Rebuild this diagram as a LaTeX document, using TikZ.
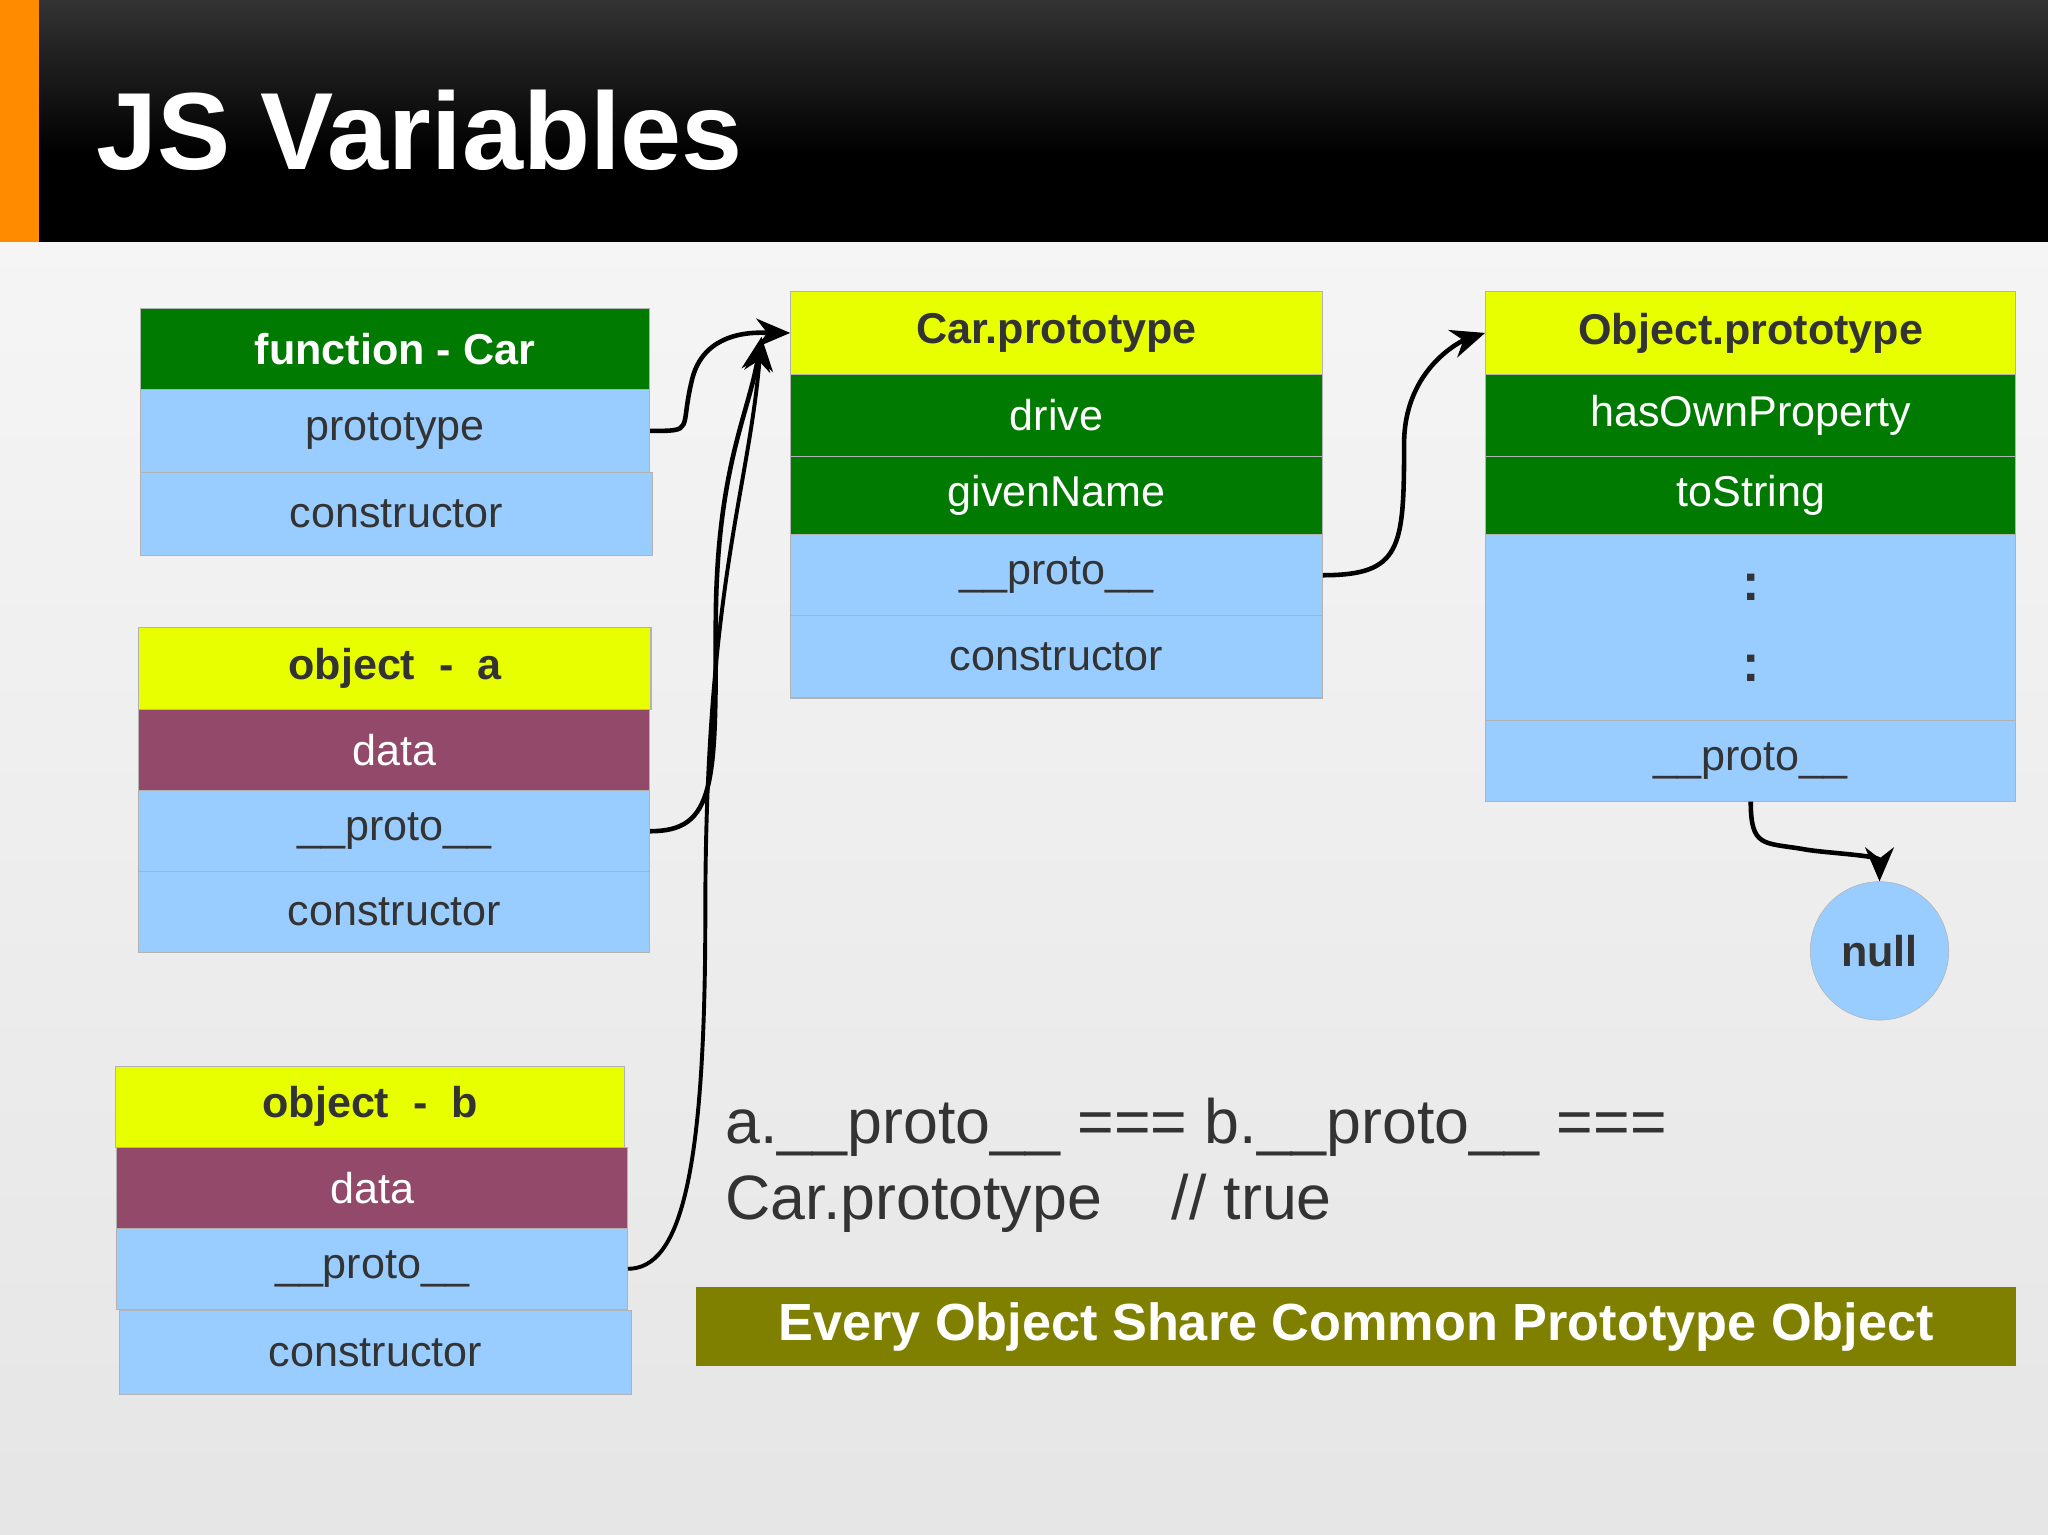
\documentclass[tikz,border=0pt]{standalone}
\usepackage{fontspec}
\setmainfont{Liberation Sans}
\usetikzlibrary{arrows.meta}
\definecolor{dg}{HTML}{007A00}
\definecolor{yl}{HTML}{E8FF00}
\definecolor{lb}{HTML}{99CCFF}
\definecolor{mr}{HTML}{934A6A}
\definecolor{ol}{HTML}{808000}
\definecolor{tx}{HTML}{333333}
\tikzset{
 row/.style={draw=gray!60, line width=0.8pt, anchor=north west, inner sep=0pt, align=center,
   font=\fontsize{33}{36}\selectfont, text=tx},
 hdr/.style={row, fill=yl, font=\fontsize{33}{36}\selectfont\bfseries},
 grn/.style={row, fill=dg, text=white},
 blu/.style={row, fill=lb},
 dat/.style={row, fill=mr, text=white},
 link/.style={line width=3.5pt, -{Stealth[length=26pt,width=22pt]}},
}
\begin{document}
\begin{tikzpicture}[x=1pt,y=-1pt]
\useasboundingbox (0,0) rectangle (1568,1175);
\shade[top color=gray!8, bottom color=gray!20] (0,185) rectangle (1568,1175);
\shade[top color=black!80, bottom color=black] (0,0) rectangle (1568,118);
\fill[black] (0,118) rectangle (1568,185);
\fill[orange!90!yellow] (0,0) rectangle (30,185);
\node[anchor=west, text=white, font=\fontsize{84}{90}\selectfont\bfseries] (title) at (70,100) {JS Variables};
% function Car
\node[row,fill=dg,text=white,font=\fontsize{33}{36}\selectfont\bfseries,minimum width=390,minimum height=62] (fh) at (107,236) {function - Car};
\node[blu,minimum width=390,minimum height=63] (fp) at (107,298) {prototype};
\node[blu,minimum width=392,minimum height=64] (fc) at (107,361) {constructor};
% object a
\node[hdr,minimum width=392,minimum height=63] (ah) at (106,480) {object\ \ -\ \ a};
\node[dat,minimum width=391,minimum height=62] (ad) at (106,543) {data};
\node[blu,minimum width=391,minimum height=62] (ap) at (106,605) {\_\_proto\_\_};
\node[blu,minimum width=391,minimum height=62] (ac) at (106,667) {constructor};
% object b
\node[hdr,minimum width=390,minimum height=62] (bh) at (88,816) {object\ \ -\ \ b};
\node[dat,minimum width=391,minimum height=62] (bd) at (89,878) {data};
\node[blu,minimum width=391,minimum height=62] (bp) at (89,940) {\_\_proto\_\_};
\node[blu,minimum width=392,minimum height=64] (bc) at (91,1003) {constructor};
% Car.prototype
\node[hdr,minimum width=407,minimum height=63] (ch) at (605,223) {Car.prototype};
\node[grn,minimum width=407,minimum height=63] (cd) at (605,286) {drive};
\node[grn,minimum width=407,minimum height=60] (cg) at (605,349) {givenName};
\node[blu,minimum width=407,minimum height=62] (cp) at (605,409) {\_\_proto\_\_};
\node[blu,minimum width=407,minimum height=63] (cc) at (605,471) {constructor};
% Object.prototype
\node[hdr,minimum width=406,minimum height=63] (oh) at (1137,223) {Object.prototype};
\node[grn,minimum width=406,minimum height=63] (oo) at (1137,286) {hasOwnProperty};
\node[grn,minimum width=406,minimum height=60] (ot) at (1137,349) {toString};
\node[blu,minimum width=406,minimum height=142,font=\fontsize{40}{62}\selectfont\bfseries] (odots) at (1137,409) {:\\:};
\node[blu,minimum width=406,minimum height=62] (op) at (1137,551) {\_\_proto\_\_};
% null
\node[circle,draw=gray!60,fill=lb,minimum size=106,inner sep=0,font=\fontsize{33}{36}\selectfont\bfseries,text=tx] (null) at (1439,728) {null};
% arrows
\draw[link] (fp.east) .. controls +(35,0) and +(-10,40) .. (530,290) .. controls +(10,-40) and +(-20,0) .. (ch.west);
\draw[link] (ap.east) .. controls +(50,0) and +(0,120) .. (548,480) .. controls +(0,-120) and +(-10,60) .. (583,258);
\draw[link,line width=3pt] (bp.east) .. controls +(40,0) and +(0,200) .. (540,700) .. controls +(0,-250) and +(-10,120) .. (583,258);
\draw[link] (cp.east) .. controls +(60,0) and +(0,80) .. (1075,340) .. controls +(0,-60) and +(-15,5) .. (oh.west);
\draw[link] (op.south) .. controls +(0,35) and +(-30,-5) .. (1380,650) .. controls +(15,3) and +(0,-20) .. (null.north);
% text
\node[anchor=west,text=tx,font=\fontsize{48}{58}\selectfont,align=left] (eq) at (552,892) {a.\_\_proto\_\_ === b.\_\_proto\_\_ ===\\Car.prototype\ \ \ \ // true};
\node[anchor=north west,fill=ol,minimum width=1010,minimum height=61,inner sep=0,text=white,font=\fontsize{40}{44}\selectfont\bfseries] (ban) at (533,985) {Every Object Share Common Prototype Object};
\end{tikzpicture}
\end{document}
